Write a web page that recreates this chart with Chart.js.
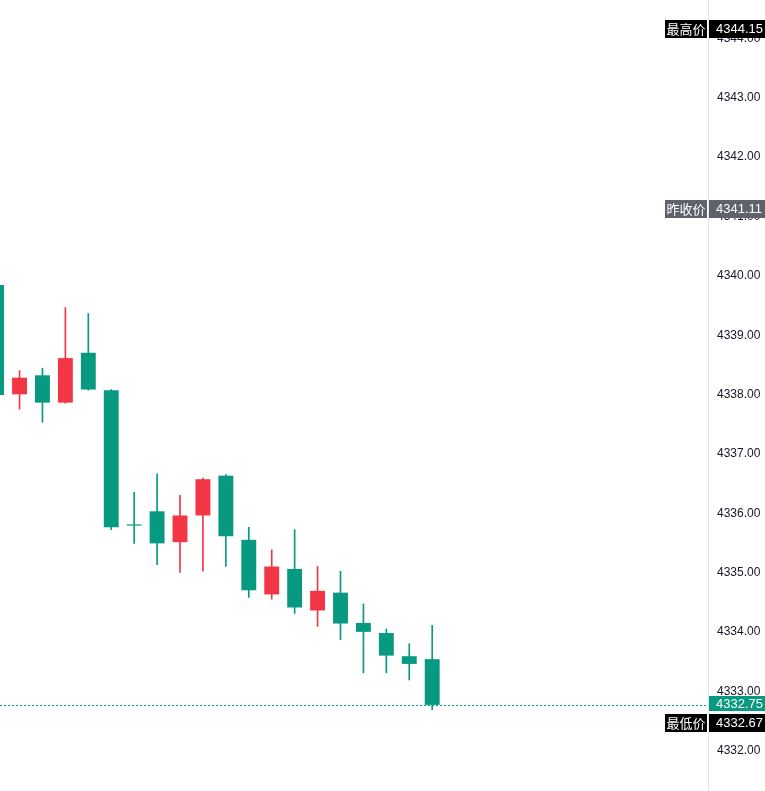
<!DOCTYPE html>
<html>
<head>
<meta charset="utf-8">
<script src="https://cdn.jsdelivr.net/npm/chart.js@4.4.1/dist/chart.umd.min.js"></script>
<style>
  html, body { margin: 0; padding: 0; background: #fff; }
  #wrap { width: 765px; height: 791px; }
</style>
</head>
<body>
<div id="wrap"><canvas id="kline"></canvas></div>
<script>
// candle data (index 0 is cut at the left edge)
const opens  = [4339.82, 4337.98, 4338.30, 4337.84, 4338.68, 4338.05, 4335.79, 4336.01, 4335.49, 4335.94,
                4336.61, 4335.53, 4334.61, 4335.04, 4334.34, 4334.64, 4334.13, 4333.96, 4333.57, 4333.52];
const closes = [4337.97, 4338.26, 4337.84, 4338.59, 4338.06, 4335.74, 4335.77, 4335.47, 4335.94, 4336.55,
                4335.59, 4334.68, 4335.08, 4334.39, 4334.67, 4334.12, 4333.98, 4333.58, 4333.44, 4332.75];
const highs  = [4339.90, 4338.38, 4338.42, 4339.44, 4339.34, 4338.06, 4336.33, 4336.64, 4336.28, 4336.57,
                4336.63, 4335.74, 4335.36, 4335.70, 4335.08, 4335.00, 4334.45, 4334.03, 4333.78, 4334.09];
const lows   = [4337.95, 4337.73, 4337.51, 4337.83, 4338.05, 4335.70, 4335.47, 4335.11, 4334.98, 4335.00,
                4335.08, 4334.56, 4334.53, 4334.29, 4334.07, 4333.85, 4333.29, 4333.29, 4333.17, 4332.67];

const tagNames  = ['最高价', '昨收价', '最低价'];
const tagValues = [4344.15, 4341.11, 4332.67];
const lastPrice = 4332.75;

const UP = '#F23645';
const DOWN = '#089981';
const candleColors = opens.map((o, i) => closes[i] >= o ? UP : DOWN);
const tagColors = ['#000000', '#5f626d', '#000000'];

const bodies = opens.map((o, i) => ({ x: i, y: [o, closes[i]] }));
const wicks = lows.map((l, i) => ({ x: i, y: [l, highs[i]] }));

function drawTag(ctx, x, yc, w, h, bg, text, font, align) {
    const top = Math.round(yc - h / 2);
    ctx.fillStyle = bg;
    ctx.fillRect(x, top, w, h);
    ctx.fillStyle = '#ffffff';
    ctx.font = font;
    ctx.textBaseline = 'middle';
    if (align === 'center') {
        ctx.textAlign = 'center';
        ctx.fillText(text, x + w / 2, top + h / 2 + 0.5);
    } else {
        ctx.textAlign = 'left';
        ctx.fillText(text, x + 7, top + h / 2 + 0.5);
    }
}

const priceTags = {
    id: 'priceTags',
    beforeDatasetsDraw(chart) {
        const { ctx, chartArea, scales: { y } } = chart;
        const py = Math.round(y.getPixelForValue(lastPrice)) + 0.5;
        ctx.save();
        ctx.strokeStyle = DOWN;
        ctx.lineWidth = 1;
        ctx.setLineDash([2, 2]);
        ctx.beginPath();
        ctx.moveTo(chartArea.left, py);
        ctx.lineTo(chartArea.right, py);
        ctx.stroke();
        ctx.restore();
    },
    afterDraw(chart) {
        const { ctx, chartArea, scales: { y } } = chart;
        const right = chartArea.right;
        const valueFont = '13px "Liberation Sans", Arial, sans-serif';
        const nameFont = '13px "Noto Sans CJK SC", sans-serif';
        ctx.save();

        // last price tag
        const lastY = y.getPixelForValue(lastPrice) - 1;
        drawTag(ctx, right + 1, lastY, 56, 15, DOWN, lastPrice.toFixed(2), valueFont);

        tagValues.forEach((v, i) => {
            let yc = y.getPixelForValue(v) + 1;
            // push the tag down when it would cover the last price tag
            if (Math.abs(yc - lastY) < 18) yc = lastY + 19;
            drawTag(ctx, right - 43, yc, 42, 18, tagColors[i], tagNames[i], nameFont, 'center');
            drawTag(ctx, right + 1, yc, 56, 18, tagColors[i], v.toFixed(2), valueFont);
        });
        ctx.restore();
    }
};

new Chart(document.getElementById('kline'), {
    type: 'bar',
    data: {
        datasets: [
            {
                label: 'body',
                data: bodies,
                backgroundColor: candleColors,
                grouped: false,
                barPercentage: 0.65,
                categoryPercentage: 1,
                minBarLength: 1,
                order: 0
            },
            {
                label: 'wick',
                data: wicks,
                backgroundColor: candleColors,
                grouped: false,
                barThickness: 1,
                order: 1
            }
        ]
    },
    options: {
        responsive: true,
        maintainAspectRatio: false,
        animation: false,
        layout: { padding: 0 },
        plugins: {
            legend: { display: false },
            tooltip: { enabled: false }
        },
        scales: {
            x: {
                type: 'linear',
                display: false,
                offset: false,
                min: 0.148,
                max: 31.03,
                grid: { display: false }
            },
            y: {
                position: 'right',
                min: 4331.30,
                max: 4344.62,
                beginAtZero: false,
                grid: { display: false },
                border: { display: true, color: '#e0e3eb', width: 1 },
                afterBuildTicks: scale => {
                    scale.ticks = scale.ticks.filter(t => Number.isInteger(t.value));
                },
                afterFit: scale => {
                    scale.width = 57;
                    scale.paddingTop = 0;
                    scale.paddingBottom = 0;
                },
                ticks: {
                    stepSize: 1,
                    padding: 1,
                    labelOffset: 1.5,
                    color: '#131722',
                    font: { family: '"Liberation Sans", Arial, sans-serif', size: 12 },
                    callback: v => Number(v).toFixed(2)
                }
            }
        }
    },
    plugins: [priceTags]
});
</script>
</body>
</html>
